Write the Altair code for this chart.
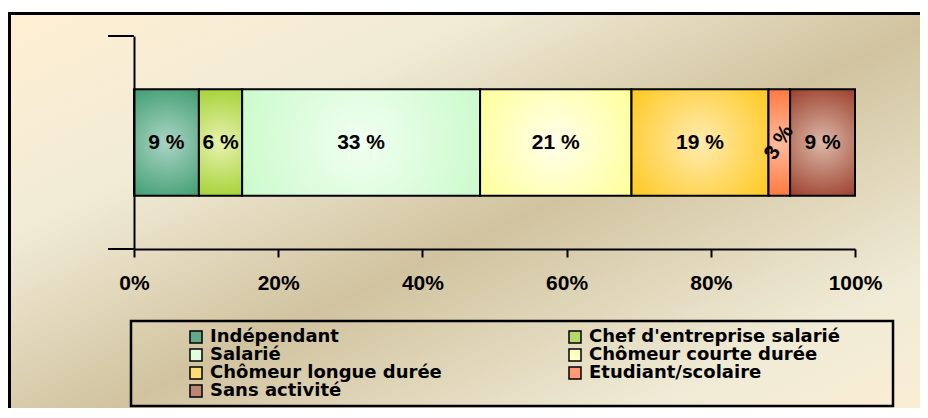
import altair as alt
import pandas as pd

# ---- data ----
categories = ["Indépendant", "Chef d'entreprise salarié", "Salarié",
              "Chômeur courte durée", "Chômeur longue durée",
              "Etudiant/scolaire", "Sans activité"]
shares = [9, 6, 33, 21, 19, 3, 9]
tick_values = [0, 20, 40, 60, 80, 100]

# ---- styling ----
edge_colors = ["#3A9A6C", "#9ACD22", "#C6FAC6", "#FFFF99", "#FFC922", "#FF6A28", "#983824"]
center_colors = ["#AAD4C4", "#E8F2B0", "#F0FFF0", "#FFFFEA", "#FFEBB0", "#FFBCA0", "#DCB8A8"]
legend_colors = ["#62AA8A", "#B6DA6A", "#DEFEDE", "#FFFFC4", "#FFDB74", "#FF9A74", "#BE8474"]

FONT = "Liberation Sans"
LEGEND_FONT = "DejaVu Sans"
W, H = 721, 213

df = pd.DataFrame({
    "cat": categories,
    "value": shares,
    "order": list(range(len(categories))),
    "grp": ["all"] * len(categories),
    "label": [f"{v} %" for v in shares],
})


def radial(center, edge):
    return {"gradient": "radial", "x1": 0.5, "y1": 0.5, "x2": 0.5, "y2": 0.5,
            "r1": 0, "r2": 0.62,
            "stops": [{"offset": 0, "color": center}, {"offset": 1, "color": edge}]}


conditions = [{"test": f"datum.order === {i}", "value": radial(c, e)}
              for i, (c, e) in enumerate(zip(center_colors, edge_colors))]

bg_gradient = alt.LinearGradient(
    gradient="linear", x1=0, y1=0, x2=1, y2=1,
    stops=[alt.GradientStop(offset=0, color="#FFEFD2"),
           alt.GradientStop(offset=0.25, color="#F1EBD6"),
           alt.GradientStop(offset=0.5, color="#D1C39F"),
           alt.GradientStop(offset=0.78, color="#F0EBD6"),
           alt.GradientStop(offset=1, color="#FFEFD2")])

one = pd.DataFrame({"a": [0]})

background = alt.Chart(one).mark_rect(fill=bg_gradient, stroke="black", strokeWidth=3).encode(
    x=alt.value(-124.5), x2=alt.value(820), y=alt.value(-22.5), y2=alt.value(420))

legend_box = alt.Chart(one).mark_rect(fillOpacity=0, stroke="black", strokeWidth=2.5).encode(
    x=alt.value(-3), x2=alt.value(759), y=alt.value(285), y2=alt.value(370))

base = alt.Chart(df).transform_stack(
    stack="value", groupby=["grp"], as_=["x0", "x1"],
    sort=[alt.SortField("order", order="ascending")]
).transform_calculate(mid="(datum.x0 + datum.x1) / 2")

x_enc = alt.X("x0:Q", scale=alt.Scale(domain=[0, 100], nice=False, zero=True),
              axis=alt.Axis(values=tick_values, labelExpr="datum.value + '%'", title=None,
                            grid=False, tickSize=8, tickWidth=2, tickColor="black",
                            domainColor="black", domainWidth=2, labelFont=FONT,
                            labelFontSize=21, labelFontWeight="bold", labelColor="black",
                            labelPadding=15, labelFlush=False, zindex=1))
y_enc = alt.Y("grp:N", scale=alt.Scale(paddingInner=0, paddingOuter=0.5),
              axis=alt.Axis(labels=False, ticks=False, title=None, domainColor="black",
                            domainWidth=2, grid=False, zindex=1))

bars = base.mark_bar(stroke="black", strokeWidth=2).encode(
    x=x_enc, x2="x1:Q", y=y_enc,
    color=alt.Color("cat:N", sort=categories,
                    scale=alt.Scale(domain=categories, range=legend_colors),
                    legend=alt.Legend(orient="none", legendX=53, legendY=292, columns=2,
                                      direction="horizontal",
                                      title=None, columnPadding=124, rowPadding=0,
                                      symbolType="square", symbolSize=144,
                                      symbolStrokeColor="black", symbolStrokeWidth=1.5,
                                      labelFont=LEGEND_FONT, labelFontSize=18,
                                      labelFontWeight="bold", labelColor="black",
                                      labelOffset=5, labelLimit=400, padding=0),
                    condition=conditions),
)

labels = base.mark_text(font=FONT, fontSize=21, fontWeight="bold", color="black").encode(
    x="mid:Q", y="grp:N", text="label:N",
    angle=alt.condition("datum.value < 5", alt.value(302), alt.value(0)))

tick_top = alt.Chart(one).mark_rule(color="black", strokeWidth=2).encode(
    x=alt.value(-26), x2=alt.value(0), y=alt.value(0))
tick_bottom = alt.Chart(one).mark_rule(color="black", strokeWidth=2).encode(
    x=alt.value(-26), x2=alt.value(0), y=alt.value(H))

chart = alt.layer(background, legend_box, bars, labels, tick_top, tick_bottom).properties(
    width=W, height=H,
    autosize=alt.AutoSizeParams(type="none"),
    padding={"left": 126, "top": 28, "right": 65, "bottom": 159},
    background="white",
).configure_view(strokeWidth=0)

chart.save("out.html", embed_options={"renderer": "svg", "actions": False})
